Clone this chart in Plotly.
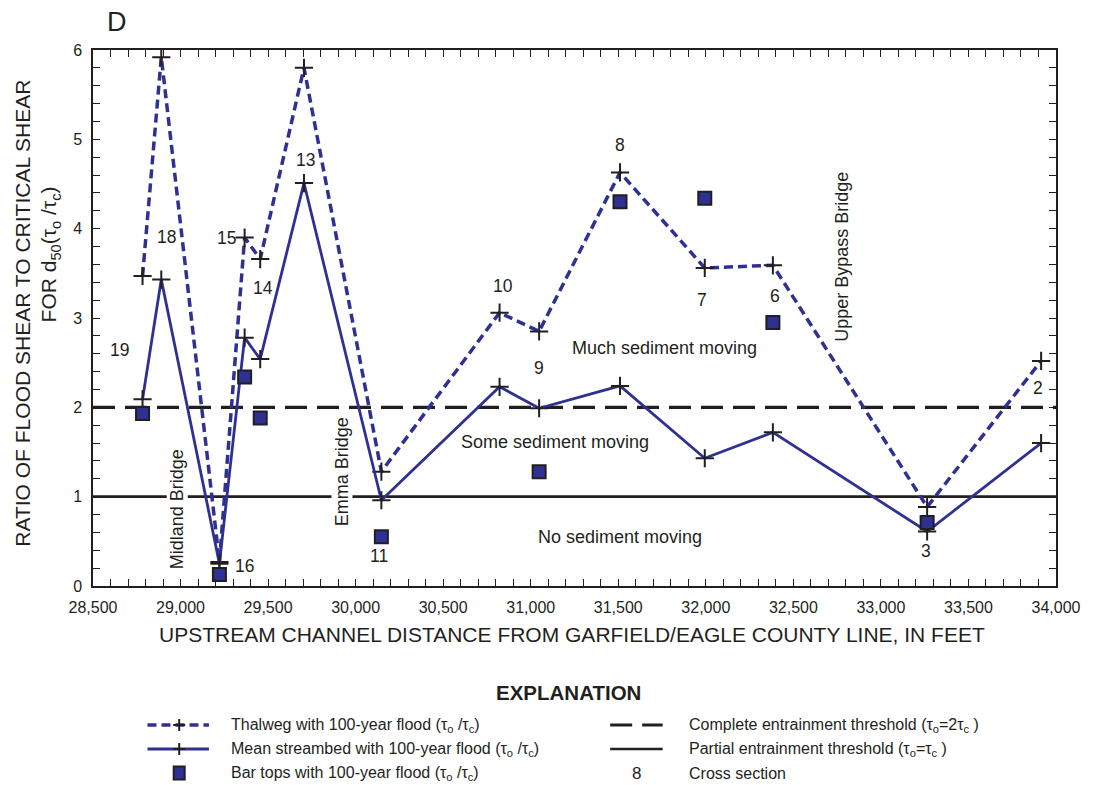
import plotly.graph_objects as go

# ---------------- data ----------------
sections = ["19", "18", "16", "15", "14", "13", "11", "10", "9", "8", "7", "6", "3", "2"]
distance_ft = [28783, 28890, 29222, 29366, 29455, 29705, 30147, 30822, 31048, 31510, 31994, 32383, 33264, 33915]
thalweg_ratio = [3.47, 5.92, 0.27, 3.90, 3.66, 5.80, 1.28, 3.06, 2.85, 4.63, 3.56, 3.59, 0.885, 2.52]
mean_bed_ratio = [2.09, 3.43, 0.25, 2.78, 2.54, 4.51, 0.96, 2.23, 1.99, 2.24, 1.43, 1.72, 0.61, 1.60]

bar_sections = ["19", "16", "15", "14", "11", "9", "8", "7", "6", "3"]
bar_top_ratio = [1.93, 0.13, 2.34, 1.88, 0.55, 1.28, 4.30, 4.34, 2.95, 0.71]

complete_threshold = 2.0
partial_threshold = 1.0

x_range = [28500, 34000]
x_major_ticks = [28500, 29000, 29500, 30000, 30500, 31000, 31500, 32000, 32500, 33000, 33500, 34000]
x_major_labels = ["28,500", "29,000", "29,500", "30,000", "30,500", "31,000",
                  "31,500", "32,000", "32,500", "33,000", "33,500", "34,000"]
y_major_ticks = [0, 1, 2, 3, 4, 5, 6]
y_major_labels = ["0", "1", "2", "3", "4", "5", "6"]

# cross-section label placements (data coordinates)
label_pos = {
    "19": (28653, 2.64), "18": (28919, 3.91), "16": (29366, 0.22), "15": (29264, 3.90),
    "14": (29473, 3.34), "13": (29711, 4.77), "11": (30135, 0.34), "10": (30843, 3.36),
    "9": (31046, 2.44), "8": (31510, 4.94), "7": (31980, 3.20), "6": (32393, 3.25),
    "3": (33259, 0.39), "2": (33898, 2.22),
}

# ---------------- styles ----------------
BLUE = "#2e3192"
INK = "#231f20"
FONT = "Liberation Sans, Arial, Helvetica, sans-serif"

L, R, T, B = 93, 28, 50, 199
W, H = 1093, 785
PW, PH = W - L - R, H - T - B


def px(xp):
    return (xp - L) / PW


def py(yp):
    return (H - B - yp) / PH


def paper_text(xp, yp, text, size, **kw):
    d = dict(xref="paper", yref="paper", x=px(xp), y=py(yp), text=text, showarrow=False,
             xanchor="center", yanchor="middle",
             font=dict(size=size, color=INK, family=FONT))
    d.update(kw)
    return d


dist_lookup = dict(zip(sections, distance_ft))
bar_x = [dist_lookup[s] for s in bar_sections]

fig = go.Figure()

# thresholds
fig.add_trace(go.Scatter(x=x_range, y=[complete_threshold] * 2, mode="lines",
                         line=dict(color=INK, width=3.2, dash="22px,10px"),
                         hoverinfo="skip", showlegend=False))
fig.add_trace(go.Scatter(x=x_range, y=[partial_threshold] * 2, mode="lines",
                         line=dict(color=INK, width=2.6),
                         hoverinfo="skip", showlegend=False))

cross = dict(symbol="cross-thin", size=13, color=INK, line=dict(color=INK, width=2))

fig.add_trace(go.Scatter(x=distance_ft, y=thalweg_ratio, mode="lines+markers",
                         line=dict(color=BLUE, width=3.5, dash="9px,5px"),
                         marker=cross, showlegend=False))
fig.add_trace(go.Scatter(x=distance_ft, y=mean_bed_ratio, mode="lines+markers",
                         line=dict(color=BLUE, width=2.8),
                         marker=cross, showlegend=False))
fig.add_trace(go.Scatter(x=bar_x, y=bar_top_ratio, mode="markers",
                         marker=dict(symbol="square", size=13, color=BLUE,
                                     line=dict(color=INK, width=2)),
                         showlegend=False))

ann = []
for s in sections:
    lx, ly = label_pos[s]
    ann.append(dict(x=lx, y=ly, text=s, showarrow=False, xref="x", yref="y",
                    xanchor="center", yanchor="middle",
                    font=dict(size=17.5, color=INK, family=FONT)))

region_font = dict(size=18, color=INK, family=FONT)
ann += [
    dict(x=31765, y=2.66, text="Much sediment moving", showarrow=False, font=region_font),
    dict(x=31141, y=1.615, text="Some sediment moving", showarrow=False, font=region_font),
    dict(x=31510, y=0.55, text="No sediment moving", showarrow=False, font=region_font),
    dict(x=28981, y=0.862, text="Midland Bridge", textangle=-90, showarrow=False,
         font=region_font, bgcolor="white", borderpad=0),
    dict(x=29920, y=1.28, text="Emma Bridge", textangle=-90, showarrow=False,
         font=region_font, bgcolor="white", borderpad=0),
    dict(x=32780, y=3.69, text="Upper Bypass Bridge", textangle=-90, showarrow=False,
         font=region_font),
]
for a in ann[-6:]:
    a.update(xanchor="center", yanchor="middle")

# panel letter and axis titles
ann += [
    paper_text(117, 22, "D", 27),
    paper_text(576, 634, "UPSTREAM CHANNEL DISTANCE FROM GARFIELD/EAGLE COUNTY LINE, IN FEET", 21),
    paper_text(22, 313, "RATIO OF FLOOD SHEAR TO CRITICAL SHEAR", 21, textangle=-90),
    paper_text(50, 254, "FOR d<sub>50</sub>(τ<sub>o</sub> /τ<sub>c</sub>)", 21, textangle=-90),
]

# explanation (legend)
rows = [725, 749, 773]
ann.append(paper_text(573, 692, "<b>EXPLANATION</b>", 20.5))
left_texts = ["Thalweg with 100-year flood (τ<sub>o</sub> /τ<sub>c</sub>)",
              "Mean streambed with 100-year flood (τ<sub>o</sub> /τ<sub>c</sub>)",
              "Bar tops with 100-year flood (τ<sub>o</sub> /τ<sub>c</sub>)"]
right_texts = ["Complete entrainment threshold (τ<sub>o</sub>=2τ<sub>c</sub> )",
               "Partial entrainment threshold (τ<sub>o</sub>=τ<sub>c</sub> )",
               "Cross section"]
for r, t in zip(rows, left_texts):
    ann.append(paper_text(230, r, t, 16, xanchor="left"))
for r, t in zip(rows, right_texts):
    ann.append(paper_text(693, r, t, 16, xanchor="left"))
ann.append(paper_text(642, rows[2], "8", 17))

shapes = []
# legend samples
shapes.append(dict(type="line", xref="paper", yref="paper", x0=px(148), x1=px(210),
                   y0=py(rows[0]), y1=py(rows[0]),
                   line=dict(color=BLUE, width=3.5, dash="9px,5px")))
shapes.append(dict(type="line", xref="paper", yref="paper", x0=px(148), x1=px(210),
                   y0=py(rows[1]), y1=py(rows[1]), line=dict(color=BLUE, width=3)))
for r in rows[:2]:
    shapes.append(dict(type="line", xref="paper", yref="paper", xsizemode="pixel",
                       ysizemode="pixel", xanchor=px(180), yanchor=py(r),
                       x0=-6, x1=6, y0=0, y1=0, line=dict(color=INK, width=2)))
    shapes.append(dict(type="line", xref="paper", yref="paper", xsizemode="pixel",
                       ysizemode="pixel", xanchor=px(180), yanchor=py(r),
                       x0=0, x1=0, y0=-6, y1=6, line=dict(color=INK, width=2)))
shapes.append(dict(type="rect", xref="paper", yref="paper", xsizemode="pixel",
                   ysizemode="pixel", xanchor=px(180), yanchor=py(rows[2]),
                   x0=-5.5, x1=5.5, y0=-6.5, y1=6.5, fillcolor=BLUE,
                   line=dict(color=INK, width=2)))
shapes.append(dict(type="line", xref="paper", yref="paper", x0=px(615), x1=px(668),
                   y0=py(rows[0]), y1=py(rows[0]),
                   line=dict(color=INK, width=3.2, dash="22px,10px")))
shapes.append(dict(type="line", xref="paper", yref="paper", x0=px(615), x1=px(668),
                   y0=py(rows[1]), y1=py(rows[1]), line=dict(color=INK, width=2.6)))

tick_style = dict(ticks="inside", ticklen=7, tickwidth=1.2, tickcolor=INK)

fig.update_layout(
    width=W, height=H,
    margin=dict(l=L, r=R, t=T, b=B),
    paper_bgcolor="white", plot_bgcolor="white",
    font=dict(family=FONT, color=INK),
    showlegend=False,
    annotations=ann,
    shapes=shapes,
    xaxis=dict(range=x_range, tickmode="array", tickvals=x_major_ticks, ticktext=x_major_labels,
               minor=dict(dtick=100, tick0=x_range[0], showgrid=False, **tick_style),
               showline=True, linecolor=INK, linewidth=1.5, mirror="ticks",
               showgrid=False, zeroline=False, ticklabelstandoff=6,
               tickfont=dict(size=16, color=INK, family=FONT), **tick_style),
    yaxis=dict(range=[0, 6], tickmode="array", tickvals=y_major_ticks, ticktext=y_major_labels,
               minor=dict(dtick=0.2, tick0=0, showgrid=False, **tick_style),
               showline=True, linecolor=INK, linewidth=1.5, mirror="ticks",
               showgrid=False, zeroline=False, ticklabelstandoff=6,
               tickfont=dict(size=16, color=INK, family=FONT), **tick_style),
)

fig.write_html("out.html", config={"displayModeBar": False},
               post_script="document.body.style.margin='0';document.body.style.overflow='hidden';")
